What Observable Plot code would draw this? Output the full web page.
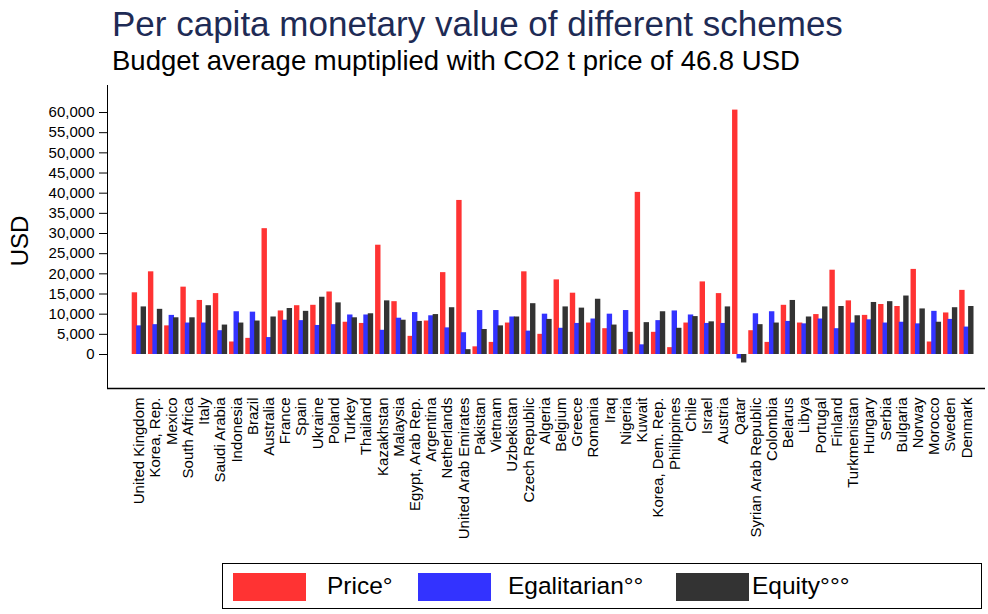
<!DOCTYPE html>
<html>
<head>
<meta charset="utf-8">
<script src="https://cdn.jsdelivr.net/npm/d3@7"></script>
<script src="https://cdn.jsdelivr.net/npm/@observablehq/plot@0.6"></script>
<style>
  body { margin: 0; background: #fff; font-family: "Liberation Sans", Arial, sans-serif; }
  #wrap { position: relative; width: 988px; height: 614px; overflow: hidden; }
  #head { position: relative; height: 80px; }
  #title { position: absolute; left: 112px; top: 6px; font-size: 35px; line-height: 35px; color: #1e2b55; white-space: nowrap; }
  #subtitle { position: absolute; left: 112px; top: 47px; font-size: 27.5px; line-height: 27.5px; color: #000; white-space: nowrap; }
  #legend { position: absolute; left: 222px; top: 563px; width: 760px; height: 46px; border: 1.5px solid #000; box-sizing: border-box; }
  .sw { position: absolute; top: 9px; width: 73px; height: 28px; }
  .lt { position: absolute; top: 7px; font-size: 24.5px; line-height: 30px; color: #000; white-space: nowrap; }
</style>
</head>
<body>
<div id="wrap">
  <div id="head">
    <div id="title">Per capita monetary value of different schemes</div>
    <div id="subtitle">Budget average muptiplied with CO2 t price of 46.8 USD</div>
  </div>
  <div id="chart"></div>
  <div id="legend"></div>
</div>
<script>
const countries = ["United Kingdom","Korea, Rep.","Mexico","South Africa","Italy","Saudi Arabia","Indonesia","Brazil","Australia","France","Spain","Ukraine","Poland","Turkey","Thailand","Kazakhstan","Malaysia","Egypt, Arab Rep.","Argentina","Netherlands","United Arab Emirates","Pakistan","Vietnam","Uzbekistan","Czech Republic","Algeria","Belgium","Greece","Romania","Iraq","Nigeria","Kuwait","Korea, Dem. Rep.","Philippines","Chile","Israel","Austria","Qatar","Syrian Arab Republic","Colombia","Belarus","Libya","Portugal","Finland","Turkmenistan","Hungary","Serbia","Bulgaria","Norway","Morocco","Sweden","Denmark"];

const price = [15300,20500,7100,16700,13400,15100,3100,4000,31200,10800,12100,12200,15500,8000,7700,27100,13100,4500,8300,20300,38200,1900,3000,7800,20500,5000,18500,15200,7800,6400,1200,40200,5500,1700,7800,18000,15100,60600,5900,3000,12200,7800,9900,20900,13300,9700,12400,11900,21100,3100,10300,15900];

const egalitarian = [7100,7400,9700,7800,7800,5900,10600,10500,4200,8500,8400,7200,7400,9800,9800,6000,9000,10400,9600,6600,5400,10900,10900,9300,5800,10000,6500,7700,8800,10000,10900,2400,8400,10800,9800,7700,7700,-1100,10100,10600,8200,7600,8800,6400,7800,8600,7800,8000,7600,10700,8700,6800];

const equity = [11800,11200,9100,9100,12100,7300,7800,8300,9300,11400,10700,14200,12800,9100,10100,13300,8500,8200,9900,11600,1200,6200,7100,9300,12600,8700,11800,11500,13700,7300,5500,7900,10600,6500,9400,8100,11800,-2100,7400,7800,13400,9300,11800,11900,9600,12900,13100,14500,11300,8000,11600,11900];

const seriesNames = ["Price°","Egalitarian°°","Equity°°°"];
const seriesColors = ["#ff3333","#3333ff","#333333"];
const yTicks = d3.range(0, 60001, 5000);
const yDomain = [-8430, 66700];

const rows = [];
countries.forEach((c, i) => {
  rows.push({country: c, series: seriesNames[0], value: price[i]});
  rows.push({country: c, series: seriesNames[1], value: egalitarian[i]});
  rows.push({country: c, series: seriesNames[2], value: equity[i]});
});

const bw = 14.28, w = 5.4, step = 4.45;
const chart = Plot.plot({
  width: 988,
  height: 480,
  marginTop: 5,
  marginBottom: 172,
  marginLeft: 107,
  marginRight: 3,
  style: {fontFamily: "Liberation Sans, Arial, sans-serif", fontSize: "15px", color: "#000", background: "#fff"},
  x: {domain: countries, range: [123.6, 981.6], paddingInner: 0.12, paddingOuter: 0.5, round: false, label: null, tickSize: 0, tickPadding: 9, tickRotate: -90},
  y: {domain: yDomain, ticks: yTicks, tickFormat: d3.format(","), label: null, tickSize: 8, tickPadding: 5, line: true},
  color: {domain: seriesNames, range: seriesColors},
  marks: [
    Plot.ruleY([yDomain[0]], {stroke: "#000", strokeWidth: 1.5}),
    Plot.barY(rows.filter(d => d.series === seriesNames[0]), {x: "country", y: "value", fill: "series", insetLeft: 0, insetRight: bw - w}),
    Plot.barY(rows.filter(d => d.series === seriesNames[1]), {x: "country", y: "value", fill: "series", insetLeft: step, insetRight: bw - step - w}),
    Plot.barY(rows.filter(d => d.series === seriesNames[2]), {x: "country", y: "value", fill: "series", insetLeft: 2 * step, insetRight: bw - 2 * step - w}),
    Plot.text(["USD"], {text: d => d, frameAnchor: "left", textAnchor: "middle", dx: -87, dy: 4, rotate: -90, fontSize: 24, fill: "#000"})
  ]
});
document.getElementById("chart").appendChild(chart);

d3.select(chart).selectAll('[aria-label^="x-axis"] text').attr("font-size", "15px");

const legend = document.getElementById("legend");
const swX = [10, 195, 453];
const txX = [104, 285, 529];
seriesNames.forEach((s, i) => {
  const sw = document.createElement("div");
  sw.className = "sw";
  sw.style.left = swX[i] + "px";
  sw.style.background = seriesColors[i];
  legend.appendChild(sw);
  const t = document.createElement("div");
  t.className = "lt";
  t.style.left = txX[i] + "px";
  t.textContent = s;
  legend.appendChild(t);
});
</script>
</body>
</html>
